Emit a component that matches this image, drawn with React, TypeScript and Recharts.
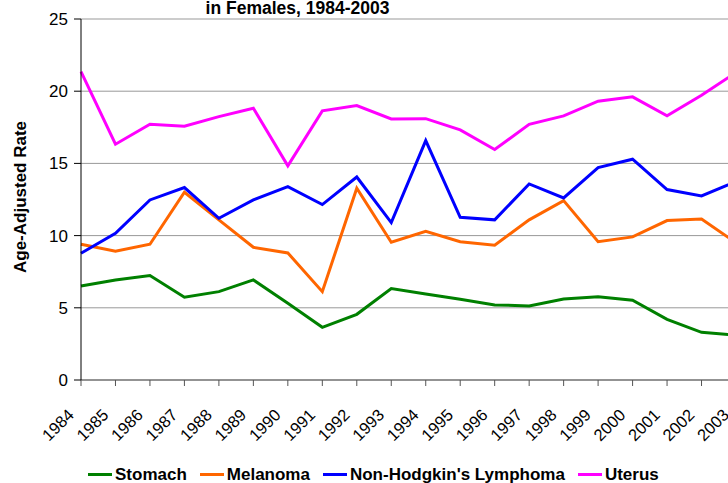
import React from "react";
import { LineChart, Line, XAxis, YAxis, CartesianGrid } from "recharts";

const years = [
  "1984", "1985", "1986", "1987", "1988", "1989", "1990", "1991", "1992", "1993",
  "1994", "1995", "1996", "1997", "1998", "1999", "2000", "2001", "2002", "2003",
];
const stomach = [6.51, 6.93, 7.23, 5.73, 6.12, 6.93, 5.31, 3.65, 4.55, 6.33, 5.96, 5.59, 5.2, 5.13, 5.61, 5.77, 5.52, 4.2, 3.3, 3.1];
const melanoma = [9.4, 8.91, 9.4, 13.0, 11.09, 9.19, 8.8, 6.12, 13.28, 9.54, 10.3, 9.58, 9.33, 11.09, 12.42, 9.58, 9.91, 11.04, 11.15, 9.5];
const lymphoma = [8.78, 10.16, 12.47, 13.33, 11.2, 12.47, 13.39, 12.15, 14.06, 10.9, 16.58, 11.27, 11.09, 13.58, 12.61, 14.71, 15.29, 13.19, 12.75, 13.75];
const uterus = [21.36, 16.33, 17.71, 17.57, 18.24, 18.82, 14.83, 18.64, 19.01, 18.08, 18.1, 17.32, 15.96, 17.71, 18.29, 19.31, 19.61, 18.29, 19.72, 21.3];
const yTicks = [0, 5, 10, 15, 20, 25];

const titleText = "in Females, 1984-2003";
const yLabel = "Age-Adjusted Rate";

const series = [
  { key: "stomach", name: "Stomach", color: "#008000", values: stomach },
  { key: "melanoma", name: "Melanoma", color: "#FF6600", values: melanoma },
  { key: "lymphoma", name: "Non-Hodgkin's Lymphoma", color: "#0000FF", values: lymphoma },
  { key: "uterus", name: "Uterus", color: "#FF00FF", values: uterus },
];

const data = years.map((year, i) => {
  const row: Record<string, any> = { year };
  series.forEach((s) => {
    row[s.key] = s.values[i];
  });
  return row;
});

const FONT = "'Liberation Sans', Arial, Helvetica, sans-serif";

const XTick = (props: any) => {
  const { x, y, payload } = props;
  return (
    <g transform={`translate(${x},${y})`}>
      <text
        transform="translate(-6,28) rotate(-45)"
        textAnchor="end"
        fontSize={16.5}
        fontFamily={FONT}
        fill="#000"
      >
        {payload.value}
      </text>
    </g>
  );
};

const YLabel = () => (
  <text
    transform="translate(25.5,197) rotate(-90)"
    textAnchor="middle"
    fontSize={17}
    fontWeight="bold"
    fontFamily={FONT}
    fill="#000"
  >
    {yLabel}
  </text>
);

export default function App() {
  return (
    <div
      style={{
        position: "absolute",
        left: 0,
        top: 0,
        width: 728,
        height: 483,
        overflow: "hidden",
        background: "#fff",
        fontFamily: FONT,
      }}
    >
      <div
        style={{
          position: "absolute",
          left: 0,
          top: 0,
          width: 595,
          textAlign: "center",
          fontSize: 17.5,
          lineHeight: "17.5px",
          fontWeight: "bold",
          color: "#000",
          whiteSpace: "nowrap",
        }}
      >
        {titleText}
      </div>
      <div style={{ position: "absolute", left: 0, top: 0 }}>
        <LineChart
          width={780}
          height={483}
          data={data}
          margin={{ top: 19, right: 44, left: 10, bottom: 43 }}
        >
          <CartesianGrid vertical={false} stroke="#999" strokeWidth={1} />
          <XAxis
            dataKey="year"
            height={60}
            interval={0}
            tick={<XTick />}
            tickSize={6}
            axisLine={{ stroke: "#808080", strokeWidth: 1.5 }}
            tickLine={{ stroke: "#555" }}
          />
          <YAxis
            width={71}
            domain={[0, 25]}
            ticks={yTicks}
            interval={0}
            tickSize={7}
            tickMargin={6}
            axisLine={{ stroke: "#000" }}
            tickLine={{ stroke: "#000" }}
            tick={{ fill: "#000", fontSize: 17, fontFamily: FONT }}
            label={<YLabel />}
          />
          {series.map((s) => (
            <Line
              key={s.key}
              type="linear"
              dataKey={s.key}
              name={s.name}
              stroke={s.color}
              strokeWidth={3}
              dot={false}
              activeDot={false}
              isAnimationActive={false}
            />
          ))}
        </LineChart>
      </div>
      <div
        style={{
          position: "absolute",
          left: 88,
          top: 465.5,
          display: "flex",
          alignItems: "center",
          fontSize: 17,
          lineHeight: "17px",
          fontWeight: "bold",
          color: "#000",
          whiteSpace: "nowrap",
        }}
      >
        {series.map((s) => (
          <div key={s.key} style={{ display: "flex", alignItems: "center", marginRight: 13 }}>
            <div style={{ width: 24, height: 3, background: s.color, marginRight: 3 }} />
            <span>{s.name}</span>
          </div>
        ))}
      </div>
    </div>
  );
}
